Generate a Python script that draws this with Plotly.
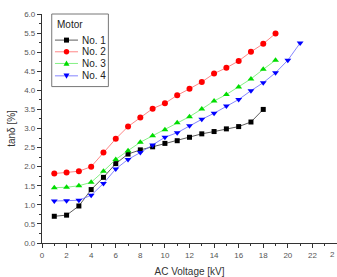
import plotly.graph_objects as go

voltage = list(range(1, 22))
motor1 = [0.70, 0.73, 0.97, 1.40, 1.72, 2.08, 2.33, 2.44, 2.52, 2.61, 2.68, 2.77, 2.86, 2.92, 2.99, 3.05, 3.17, 3.50]
motor2 = [1.82, 1.85, 1.88, 2.00, 2.37, 2.73, 3.05, 3.29, 3.52, 3.66, 3.87, 4.04, 4.22, 4.44, 4.59, 4.77, 5.01, 5.22, 5.49]
motor3 = [1.45, 1.46, 1.50, 1.59, 1.88, 2.19, 2.42, 2.64, 2.81, 2.97, 3.15, 3.31, 3.51, 3.72, 3.89, 4.09, 4.30, 4.55, 4.79]
motor4 = [1.10, 1.11, 1.12, 1.25, 1.56, 1.94, 2.19, 2.37, 2.57, 2.77, 2.89, 3.07, 3.24, 3.40, 3.59, 3.76, 3.99, 4.20, 4.46, 4.79, 5.24]
names = ["No. 1", "No. 2", "No. 3", "No. 4"]
legend_title = "Motor"
x_ticks = list(range(0, 23, 2))
y_ticks = [i * 0.5 for i in range(13)]

series = [motor1, motor2, motor3, motor4]
colors = ["#000000", "#ff0000", "#00dd00", "#0000ff"]
line_colors = ["#333333", "#ff6666", "#66ee66", "#6666ff"]
symbols = ["square", "circle", "triangle-up", "triangle-down"]
sizes = [5, 6, 6, 6]

FONT = "Liberation Sans, Arial, sans-serif"

fig = go.Figure()
for s, n, c, lc, sym, sz in zip(series, names, colors, line_colors, symbols, sizes):
    fig.add_trace(go.Scatter(
        x=voltage[:len(s)], y=s, name=n, mode="lines+markers",
        line=dict(color=lc, width=0.8),
        marker=dict(color=c, symbol=sym, size=sz, line=dict(width=0)),
        showlegend=False,
    ))

# ---- custom compact legend (box, title, entries) ----
shapes = []
annotations = []
shapes.append(dict(type="rect", xref="paper", yref="paper", x0=0.033, x1=0.225, y0=0.683, y1=1.0,
                   line=dict(color="#777777", width=1), fillcolor="white", layer="above"))
annotations.append(dict(xref="paper", yref="paper", x=0.044, y=0.952, xanchor="left", yanchor="middle",
                        text=legend_title, showarrow=False, font=dict(family=FONT, size=10, color="#222222")))
entry_y = [0.886, 0.835, 0.784, 0.730]
lx0, lx1, lmid = 0.044, 0.122, 0.083
# pixel-size paths: y grows upward
marker_paths = {
    "square": "M-2.5,-2.5 L2.5,-2.5 L2.5,2.5 L-2.5,2.5 Z",
    "triangle-up": "M-3,-2.3 L3,-2.3 L0,3 Z",
    "triangle-down": "M-3,2.3 L3,2.3 L0,-3 Z",
}
for n, c, lc, sym, yy in zip(names, colors, line_colors, symbols, entry_y):
    shapes.append(dict(type="line", xref="paper", yref="paper", x0=lx0, x1=lx1, y0=yy, y1=yy,
                       line=dict(color=lc, width=0.8), layer="above"))
    if sym == "circle":
        shapes.append(dict(type="circle", xref="paper", yref="paper", xsizemode="pixel", ysizemode="pixel",
                           xanchor=lmid, yanchor=yy, x0=-2.7, x1=2.7, y0=-2.7, y1=2.7,
                           fillcolor=c, line=dict(width=0), layer="above"))
    else:
        shapes.append(dict(type="path", xref="paper", yref="paper", xsizemode="pixel", ysizemode="pixel",
                           xanchor=lmid, yanchor=yy, path=marker_paths[sym],
                           fillcolor=c, line=dict(width=0), layer="above"))
    annotations.append(dict(xref="paper", yref="paper", x=0.128, y=yy, xanchor="left", yanchor="middle",
                            text=n, showarrow=False, font=dict(family=FONT, size=10, color="#222222")))

# first digit of the cropped "24" tick label at the right edge
annotations.append(dict(xref="paper", yref="paper", x=1.0, y=0, yshift=-5, xanchor="right", yanchor="top",
                        text="2", showarrow=False, font=dict(family=FONT, size=8, color="#555555")))

axis_font = dict(family=FONT, size=8, color="#555555")
fig.update_layout(
    width=337, height=277,
    margin=dict(l=42, r=0, t=14, b=34),
    paper_bgcolor="white", plot_bgcolor="white",
    font=dict(family=FONT, size=9, color="#333333"),
    showlegend=False,
    shapes=shapes,
    annotations=annotations,
    xaxis=dict(
        range=[0, 24], tickvals=x_ticks, ticktext=[str(v) for v in x_ticks],
        ticks="outside", ticklen=4, tickwidth=1, tickcolor="#333333",
        showline=True, linecolor="#333333", linewidth=1.2,
        showgrid=False, zeroline=False, tickfont=axis_font,
        minor=dict(ticks="outside", dtick=1, ticklen=2, tickcolor="#333333", showgrid=False),
        title=dict(text="AC Voltage [kV]", font=dict(size=10, color="#333333"), standoff=9),
    ),
    yaxis=dict(
        range=[0, 6], tickvals=y_ticks, ticktext=[f"{v:.1f}" for v in y_ticks],
        ticks="outside", ticklen=4, tickwidth=1, tickcolor="#333333",
        showline=True, linecolor="#333333", linewidth=1.2,
        showgrid=False, zeroline=False, tickfont=axis_font,
        minor=dict(ticks="outside", dtick=0.25, ticklen=2, tickcolor="#333333", showgrid=False),
        title=dict(text="tanδ [%]", font=dict(size=10, color="#333333"), standoff=6),
    ),
)
fig.write_html("out.html")
